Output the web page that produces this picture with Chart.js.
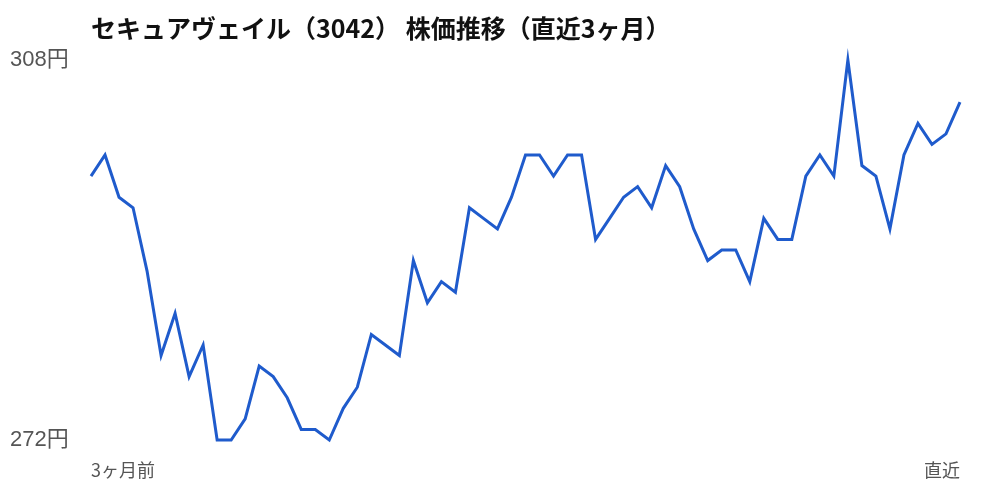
<!DOCTYPE html>
<html>
<head>
<meta charset="utf-8">
<script src="https://cdn.jsdelivr.net/npm/chart.js@4"></script>
<style>
  html, body { margin: 0; padding: 0; background: #fff; }
  #wrap { width: 1000px; height: 500px; }
</style>
</head>
<body>
<div id="wrap"><canvas id="priceChart"></canvas></div>
<script>
// 直近3ヶ月の終値（チャートから読み取り）
let prices = [
    297, 299, 295, 294, 288, 280, 284, 278, 281, 272,
    272, 274, 279, 278, 276, 273, 273, 272, 275, 277,
    282, 281, 280, 289, 285, 287, 286, 294, 293, 292,
    295, 299, 299, 297, 299, 299, 291, 293, 295, 296,
    294, 298, 296, 292, 289, 290, 290, 287, 293, 291,
    291, 297, 299, 297, 308, 298, 297, 292, 299, 302,
    300, 301, 304
];
let days = prices.map((p, i) => i);
let xTickLabels = ['3ヶ月前', '直近'];
let yTicks = [272, 308];

let jpFont = '"Noto Sans CJK JP", "Noto Sans", sans-serif';

let ctx = document.getElementById('priceChart').getContext('2d');

let priceChart = new Chart(ctx, {
    type: 'line',
    data: {
        labels: days,
        datasets: [{
            label: '株価',
            data: prices,
            borderColor: '#1f5bcc',
            borderWidth: 3,
            pointRadius: 0,
            fill: false,
            tension: 0,
            clip: false
        }]
    },
    options: {
        responsive: true,
        maintainAspectRatio: false,
        animation: false,
        layout: { padding: { left: 10, right: 40, top: 0, bottom: 20 } },
        plugins: {
            legend: { display: false },
            tooltip: { enabled: false },
            title: {
                display: true,
                text: 'セキュアヴェイル（3042） 株価推移（直近3ヶ月）',
                align: 'start',
                fullSize: false,
                color: '#111',
                font: { family: jpFont, size: 25, weight: 'bold' },
                padding: { top: 13, bottom: 17 }
            }
        },
        scales: {
            x: {
                grid: { display: false, drawTicks: false },
                border: { display: false },
                afterFit: axis => { axis.height = 40; },
                ticks: {
                    autoSkip: false,
                    maxRotation: 0,
                    align: 'inner',
                    padding: 19,
                    color: '#555',
                    font: { family: jpFont, size: 18 },
                    callback: (v, i) => {
                        if (i === 0) return xTickLabels[0];
                        if (i === prices.length - 1) return xTickLabels[1];
                        return '';
                    }
                }
            },
            y: {
                min: yTicks[0],
                max: yTicks[1],
                grid: { display: false, drawTicks: false },
                border: { display: false },
                afterFit: axis => { axis.width = 81; },
                afterBuildTicks: axis => {
                    axis.ticks = yTicks.map(v => ({ value: v }));
                },
                ticks: {
                    crossAlign: 'far',
                    color: '#555',
                    font: { family: '"Liberation Sans", "Noto Sans CJK JP", sans-serif', size: 22 },
                    callback: v => v + '円'
                }
            }
        }
    }
});
</script>
</body>
</html>
